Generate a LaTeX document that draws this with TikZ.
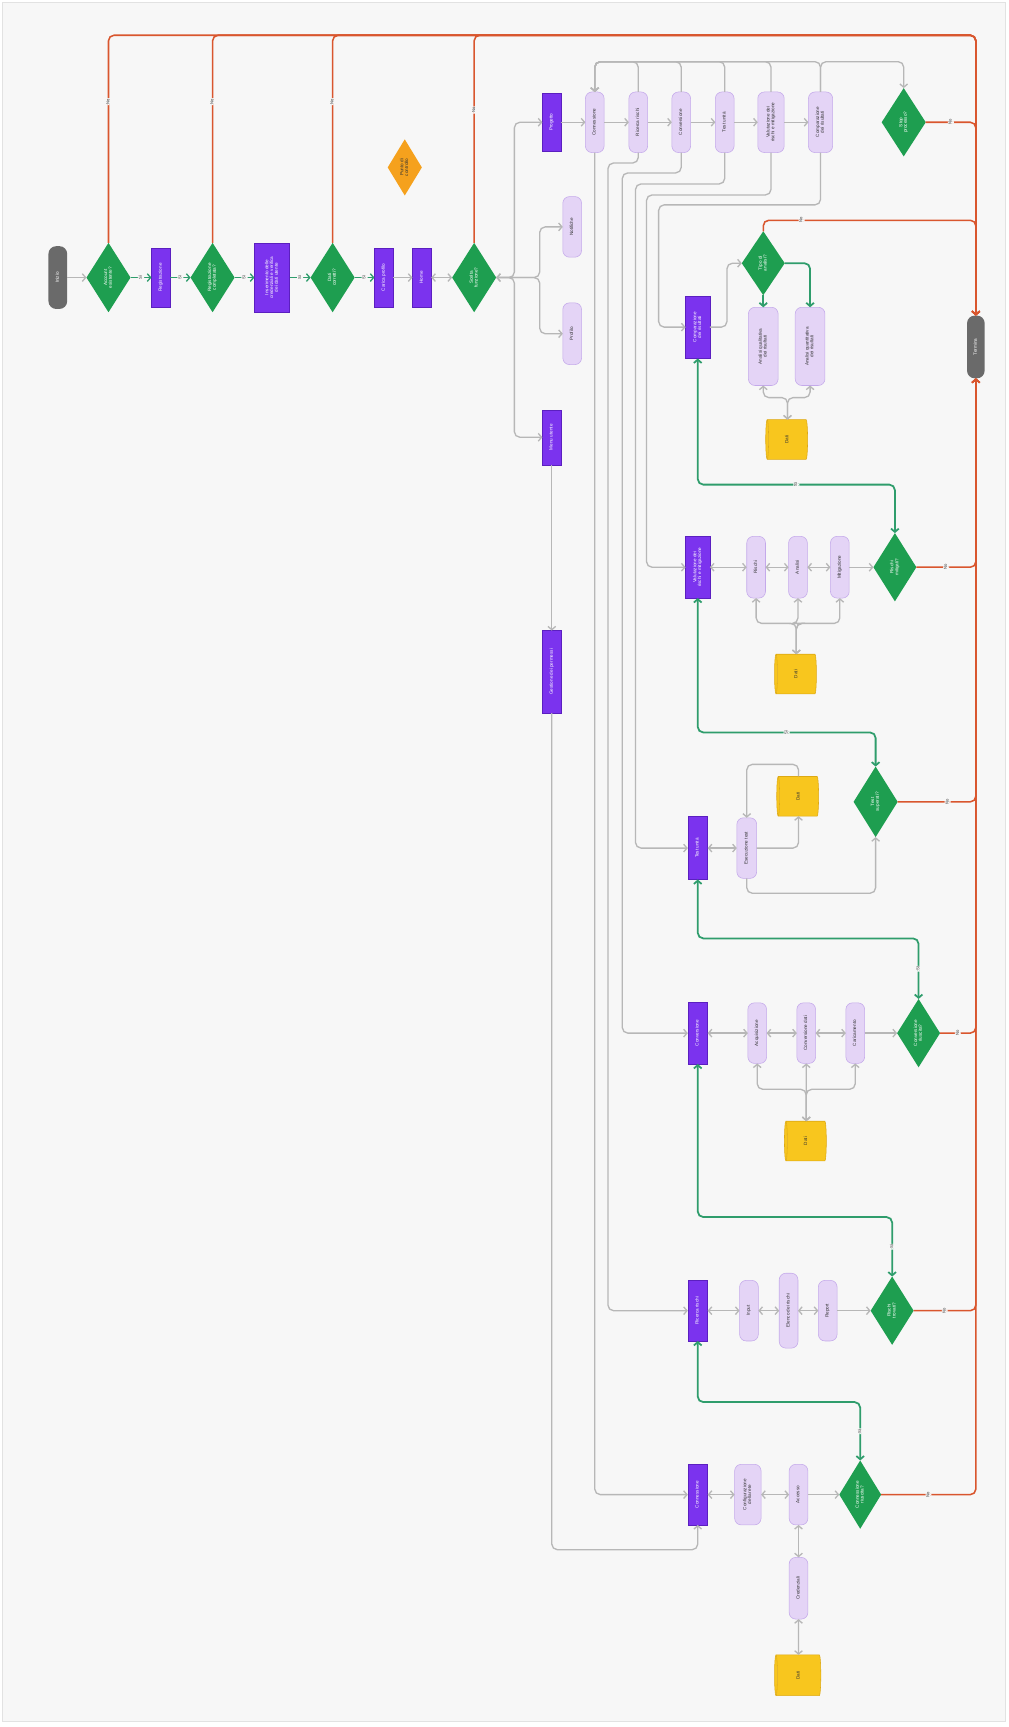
\documentclass[tikz,border=0pt]{standalone}
\usepackage{fontspec}
\setmainfont{Liberation Sans}
\usepackage{graphicx}
\usetikzlibrary{shapes.geometric,arrows.meta,calc}
\definecolor{bgc}{HTML}{F7F7F7}
\definecolor{frm}{HTML}{E2E2E2}
\definecolor{grn}{HTML}{1E9E50}
\definecolor{prp}{HTML}{7B33EE}
\definecolor{prpd}{HTML}{5B1FC0}
\definecolor{lav}{HTML}{E4D4F6}
\definecolor{lavd}{HTML}{C4A9EA}
\definecolor{ylw}{HTML}{F8C61E}
\definecolor{ylwd}{HTML}{DDA914}
\definecolor{pillc}{HTML}{6A6A6A}
\definecolor{redl}{HTML}{D9562E}
\definecolor{grl}{HTML}{2F9D6C}
\definecolor{gryl}{HTML}{B7B7B7}
\definecolor{org}{HTML}{F5A11D}
\definecolor{txt}{HTML}{333333}
\newcommand{\rt}[1]{\rotatebox{90}{\begin{tabular}{@{}c@{}}#1\end{tabular}}}
\renewcommand{\arraystretch}{0.85}
\tikzset{
 nb/.style={inner sep=0pt, outer sep=0pt, font=\fontsize{4.2}{5}\selectfont},
 pillnode/.style={nb, rectangle, rounded corners=7pt, fill=pillc, minimum width=17pt, minimum height=57pt, text=white},
 dia/.style={nb, diamond, fill=grn, minimum width=40pt, minimum height=63pt, text=white},
 pbox/.style={nb, rectangle, fill=prp, draw=prpd, line width=0.4pt, minimum width=18pt, minimum height=55pt, text=white},
 lavn/.style={nb, rectangle, rounded corners=6pt, fill=lav, draw=lavd, line width=0.5pt, minimum width=17pt, minimum height=55pt, text=txt},
 cyl/.style={nb, cylinder, shape border rotate=180, aspect=0.35, cylinder uses custom fill, cylinder body fill=ylw, cylinder end fill=ylw, draw=ylwd, line width=0.5pt, minimum width=36pt, minimum height=38pt, text=txt},
 gl/.style={draw=gryl, line width=1.2pt, rounded corners=5pt},
 rl/.style={draw=redl, line width=1.4pt, rounded corners=5pt},
 gr/.style={draw=grl, line width=1.6pt, rounded corners=5pt},
 ar1/.style={-{Straight Barb[length=3pt,width=7pt]}},
 ar2/.style={{Straight Barb[length=3pt,width=7pt]}-{Straight Barb[length=3pt,width=7pt]}},
 lbl/.style={nb, fill=bgc, inner sep=0.8pt, text=txt, font=\fontsize{3.8}{4.5}\selectfont},
}
\begin{document}
\begin{tikzpicture}[x=1pt,y=-1pt]
\useasboundingbox (0,0) rectangle (916,1568);
\fill[white] (0,0) rectangle (916,1568);
\draw[fill=bgc, draw=frm, line width=0.6pt] (2.5,2.5) rectangle (913,1563);

% ---------- main spine ----------
\node[pillnode] (S) at (52.5,252) {\rt{Inizio}};
\node[dia] (D1) at (98.5,252) {\rt{Account\\esistente?}};
\node[pbox, minimum width=17pt, minimum height=53pt] (B1) at (146,252) {\rt{Registrazione}};
\node[dia] (D2) at (193,252) {\rt{Registrazione\\completata?}};
\node[pbox, minimum width=32pt, minimum height=63pt] (BB) at (247,252) {\rt{Inserimento delle\\credenziali e verifica\\dei dati utente}};
\node[dia] (D3) at (302,252) {\rt{Dati\\corretti?}};
\node[pbox, minimum width=17pt, minimum height=53pt] (B3) at (348.5,252) {\rt{Carica profilo}};
\node[pbox, minimum width=17pt, minimum height=53pt] (B4) at (383,252) {\rt{Home}};
\node[dia] (D4) at (430.5,252) {\rt{Scelta\\funzione?}};
\node[dia, fill=org, minimum width=31pt, minimum height=51pt, text=txt] (OD) at (367.5,152) {\rt{Punto di\\controllo}};
\node[pillnode, minimum width=16pt] (T) at (886,315) {\rt{Termina}};

% ---------- left branches ----------
\node[pbox, minimum width=17pt, minimum height=52pt] (P1) at (501,111) {\rt{Progetto}};
\node[lavn] (Q1) at (519.5,206) {\rt{Notifiche}};
\node[lavn, minimum height=56pt] (Q2) at (519.5,303) {\rt{Profilo}};
\node[pbox, minimum width=17pt, minimum height=50pt] (P2) at (501,397) {\rt{Menu utente}};
\node[pbox, minimum width=17pt, minimum height=75pt] (P3) at (501,610) {\rt{Gestione dei permessi}};

% ---------- chain ----------
\node[lavn] (L1) at (540,111) {\rt{Connessione}};
\node[lavn] (L2) at (579.5,111) {\rt{Ricerca rischi}};
\node[lavn] (L3) at (618.5,111) {\rt{Conversione}};
\node[lavn] (L4) at (658,111) {\rt{Test unità}};
\node[lavn, minimum width=24pt] (L5) at (700,111) {\rt{Valutazione dei\\rischi e mitigazione}};
\node[lavn, minimum width=22pt] (L6) at (745,111) {\rt{Comparazione\\dei risultati}};
\node[dia, minimum height=62pt] (SD) at (820.5,111) {\rt{Stop\\processo?}};

% ---------- section A ----------
\node[pbox, minimum width=22pt, minimum height=57pt] (PA) at (633.5,297) {\rt{Comparazione\\dei risultati}};
\node[dia, minimum width=39pt, minimum height=58pt] (DA) at (693,239) {\rt{Tipo di\\analisi?}};
\node[lavn, minimum width=27pt, minimum height=71pt] (A1) at (693,314.5) {\rt{Analisi qualitativa\\dei risultati}};
\node[lavn, minimum width=27pt, minimum height=71pt] (A2) at (735.5,314.5) {\rt{Analisi quantitativa\\dei risultati}};
\node[cyl] (CA) at (715,399) {\rt{Dati}};

% ---------- section B ----------
\node[pbox, minimum width=22pt, minimum height=56pt] (PB) at (633.5,515) {\rt{Valutazione dei\\rischi e mitigazione}};
\node[lavn, minimum height=56pt] (RB1) at (686.5,515) {\rt{Rischi}};
\node[lavn, minimum height=56pt] (RB2) at (724.5,515) {\rt{Analisi}};
\node[lavn, minimum height=56pt] (RB3) at (762.5,515) {\rt{Mitigazione}};
\node[dia, minimum width=39pt, minimum height=62pt] (DB) at (812.5,515) {\rt{Rischi\\mitigati?}};
\node[cyl] (CB) at (723,612) {\rt{Dati}};

% ---------- section C ----------
\node[pbox, minimum height=57pt] (PC) at (633.5,770) {\rt{Test unità}};
\node[lavn, minimum width=18pt] (RC1) at (678,770) {\rt{Esecuzione test}};
\node[cyl] (CC) at (725,723) {\rt{Dati}};
\node[dia, minimum height=64pt] (DC) at (795,728) {\rt{Test\\superati?}};

% ---------- section D ----------
\node[pbox, minimum height=56pt] (PD) at (633.5,938) {\rt{Conversione}};
\node[lavn] (RD1) at (687.5,938) {\rt{Acquisizione}};
\node[lavn] (RD2) at (732,938) {\rt{Conversione dati}};
\node[lavn] (RD3) at (776.5,938) {\rt{Caricamento}};
\node[dia, minimum width=39pt, minimum height=62pt] (DD) at (834,938) {\rt{Conversione\\riuscita?}};
\node[cyl] (CD) at (732,1036) {\rt{Dati}};

% ---------- section E ----------
\node[pbox] (PE) at (633.5,1190) {\rt{Ricerca rischi}};
\node[lavn] (RE1) at (680,1190) {\rt{Input}};
\node[lavn, minimum height=68pt] (RE2) at (716,1190) {\rt{Elenco dei rischi}};
\node[lavn] (RE3) at (751.5,1190) {\rt{Report}};
\node[dia, minimum width=39pt, minimum height=62pt] (DE) at (810,1190) {\rt{Rischi\\trovati?}};

% ---------- section F ----------
\node[pbox] (PF) at (633.5,1357) {\rt{Connessione}};
\node[lavn, minimum width=24pt] (RF1) at (679,1357) {\rt{Configurazione\\della rete}};
\node[lavn] (RF2) at (725,1357) {\rt{Accesso}};
\node[lavn, minimum height=56pt] (RF3) at (725,1442) {\rt{Credenziali}};
\node[cyl, minimum width=37pt, minimum height=42pt] (CF) at (725,1521) {\rt{Dati}};
\node[dia, minimum width=38pt, minimum height=62pt] (DF) at (781,1357) {\rt{Connessione\\riuscita?}};

% ================= connectors =================
\draw[gl,ar1] (S) -- (D1);
\draw[gr,line width=1.2pt,ar1] (D1) -- node[lbl]{\rt{Sì}} (B1);
\draw[gr,line width=1.2pt,ar1] (B1) -- node[lbl]{\rt{Sì}} (D2);
\draw[gr,line width=1.2pt,ar1] (D2) -- node[lbl]{\rt{Sì}} (BB);
\draw[gr,line width=1.2pt,ar1] (BB) -- node[lbl]{\rt{Sì}} (D3);
\draw[gr,line width=1.2pt,ar1] (D3) -- node[lbl]{\rt{Sì}} (B3);
\draw[gl,ar1] (B3) -- (B4);
\draw[gl,ar2] (B4) -- (D4);

% red "No" to terminal (top)
\draw[rl,ar1] (D1.north) -- node[lbl,pos=0.68]{\rt{No}} (98.5,32) -- (886,32) -- (T.north);
\draw[rl,ar1] (D2.north) -- node[lbl,pos=0.68]{\rt{No}} (193,32) -- (886,32) -- (T.north);
\draw[rl,ar1] (D3.north) -- node[lbl,pos=0.68]{\rt{No}} (302,32) -- (886,32) -- (T.north);
\draw[rl,ar1] (D4.north) -- node[lbl,pos=0.64]{\rt{No}} (430.5,32) -- (886,32) -- (T.north);
\draw[rl,ar1] (SD.east) -- node[lbl]{\rt{No}} (886,111) -- (T.north);
\draw[rl,ar1] (DA.north) |- node[lbl,pos=0.59]{\rt{No}} (886,200) -- (T.north);
% red "No" to terminal (bottom)
\draw[rl,ar1] (DB.east) -- node[lbl]{\rt{No}} (886,515) -- (T.south);
\draw[rl,ar1] (DC.east) -- node[lbl,pos=0.64]{\rt{No}} (886,728) -- (T.south);
\draw[rl,ar1] (DD.east) -- node[lbl]{\rt{No}} (886,938) -- (T.south);
\draw[rl,ar1] (DE.east) -- node[lbl]{\rt{No}} (886,1190) -- (T.south);
\draw[rl,ar1] (DF.east) -- node[lbl]{\rt{No}} (886,1357) -- (T.south);

% trunk
\draw[gl,ar2] (D4.east) -- (467,252) |- (P1.west);
\draw[gl,ar2] (D4.east) -- (467,252) |- (P2.west);
\draw[gl,ar1] (D4.east) -- (490,252) |- (Q1.west);
\draw[gl,ar1] (D4.east) -- (490,252) |- (Q2.west);
\draw[gl,ar1] (P2) -- (P3);
\draw[gl,ar1] (P3.south) |- (633.5,1407) -- (PF.south);

% chain
\draw[gl,ar1] (P1) -- (L1);
\draw[gl,ar1] (L1) -- (L2);
\draw[gl,ar1] (L2) -- (L3);
\draw[gl,ar1] (L3) -- (L4);
\draw[gl,ar1] (L4) -- (L5);
\draw[gl,ar1] (L5) -- (L6);
\coordinate (ty) at (0,56);
\foreach \n in {L2,L3,L4,L5,L6} \draw[gl,ar1] (\n.north) -- (\n.north |- ty) -| (L1.north);
\draw[gl,ar1] (L6.north) -- (L6.north |- ty) -| (SD.north);

% chain to sections
\draw[gl,ar1] (L1.south) |- (PF.west);
\draw[gl,ar1] (L2.south) |- (552,148) |- (PE.west);
\draw[gl,ar1] (L3.south) |- (565,157) |- (PD.west);
\draw[gl,ar1] (L4.south) |- (577,167) |- (PC.west);
\draw[gl,ar1] (L5.south) |- (587,177) |- (PB.west);
\draw[gl,ar1] (L6.south) |- (598,186) |- (PA.west);

% section A
\draw[gl,ar1] (PA.east) -- (660,297) |- (DA.west);
\draw[gr,ar1] (DA.south) -- (A1.north);
\draw[gr,ar1] (DA.east) -| (A2.north);
\coordinate (ja) at (715,361);
\draw[gl,ar2] (A1.south) |- (ja) -- (CA.north);
\draw[gl,ar2] (A2.south) |- (ja) -- (CA.north);

% section B
\draw[gl,ar2] (PB) -- (RB1);
\draw[gl,ar2] (RB1) -- (RB2);
\draw[gl,ar2] (RB2) -- (RB3);
\draw[gl,ar1] (RB3) -- (DB);
\coordinate (jb) at (723,566);
\foreach \n in {RB1,RB2,RB3} \draw[gl,ar2] (\n.south) |- (jb) -- (CB.north);
\draw[gr,ar2] (DB.north) |- node[lbl,pos=0.75]{\rt{Sì}} (633.5,440) -- (PA.south);

% section C
\draw[gl,ar2] (PC) -- (RC1);
\draw[gl,ar1] (RC1.east) -| (CC.south);
\draw[gl,ar1] (CC.north) |- (678,694) -- (RC1.north);
\draw[gl,ar1] (RC1.south) |- (795,811) -- (DC.south);
\draw[gr,ar2] (DC.north) |- node[lbl,pos=0.75]{\rt{Sì}} (633.5,665) -- (PB.south);

% section D
\draw[gl,ar2] (PD) -- (RD1);
\draw[gl,ar2] (RD1) -- (RD2);
\draw[gl,ar2] (RD2) -- (RD3);
\draw[gl,ar1] (RD3) -- (DD);
\coordinate (jd) at (732,989);
\foreach \n in {RD1,RD2,RD3} \draw[gl,ar2] (\n.south) |- (jd) -- (CD.north);
\draw[gr,ar2] (DD.north) |- node[lbl,pos=0.25]{\rt{Sì}} (633.5,852) -- (PC.south);

% section E
\draw[gl,ar2] (PE) -- (RE1);
\draw[gl,ar2] (RE1) -- (RE2);
\draw[gl,ar2] (RE2) -- (RE3);
\draw[gl,ar1] (RE3) -- (DE);
\draw[gr,ar2] (DE.north) |- node[lbl,pos=0.25]{\rt{Sì}} (633.5,1105) -- (PD.south);

% section F
\draw[gl,ar2] (PF) -- (RF1);
\draw[gl,ar2] (RF1) -- (RF2);
\draw[gl,ar1] (RF2) -- (DF);
\draw[gl,ar2] (RF2) -- (RF3);
\draw[gl,ar2] (RF3) -- (CF);
\draw[gr,ar2] (DF.north) |- node[lbl,pos=0.25]{\rt{Sì}} (633.5,1273) -- (PE.south);
\end{tikzpicture}
\end{document}
